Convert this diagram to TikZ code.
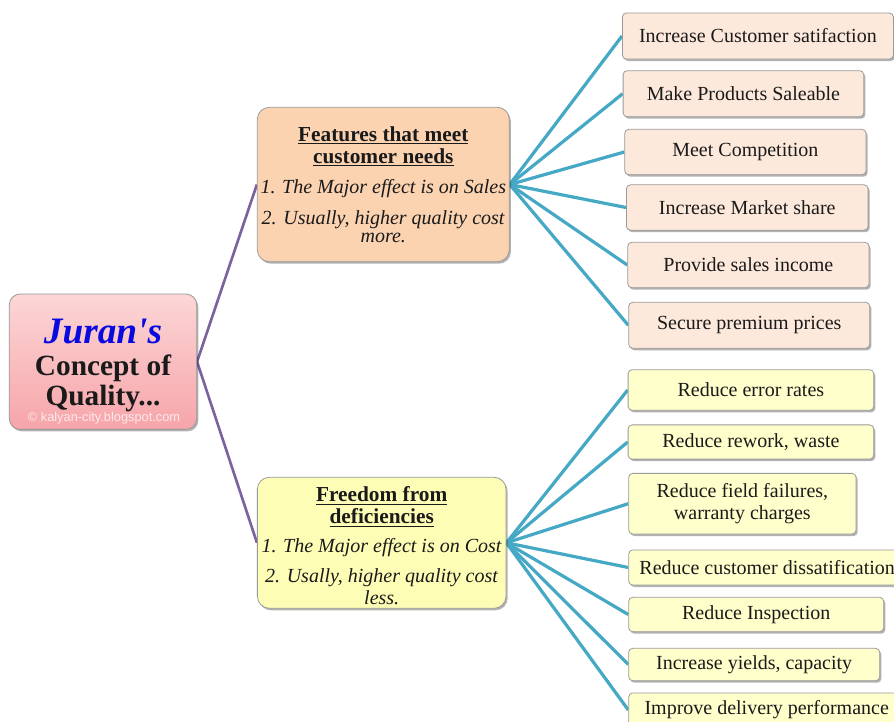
\documentclass[tikz,border=0pt]{standalone}
\usepackage{fontspec}
\setmainfont{Liberation Serif}
\newfontfamily\plainserif{Liberation Serif}[Ligatures=TeXOff]
\newfontfamily\wmfont{Liberation Sans}
\usetikzlibrary{shadows,backgrounds}
\definecolor{lineblue}{HTML}{45A8C4}
\definecolor{linepurple}{HTML}{7D62A0}
\definecolor{peachdark}{HTML}{FBD3B1}
\definecolor{peachlight}{HTML}{FDE9DB}
\definecolor{yellowdark}{HTML}{FEFDB5}
\definecolor{yellowlight}{HTML}{FFFFCC}
\definecolor{roottop}{HTML}{FCD6D6}
\definecolor{rootbottom}{HTML}{F6A5AA}
\definecolor{bordergray}{HTML}{9A9A9A}
\definecolor{textblack}{HTML}{1A1A1A}
\definecolor{juranblue}{HTML}{0A0AE0}
\begin{document}
\begin{tikzpicture}[x=0.75pt,y=-0.75pt,
  boxshadow/.style={drop shadow={shadow xshift=1.2pt,shadow yshift=-1.5pt,opacity=0.3,fill=black}},
  leaf/.style={draw=bordergray,line width=0.6pt,rounded corners=3pt,anchor=west,inner sep=0pt,
    align=center,font=\fontsize{15}{15}\selectfont,text=textblack,boxshadow},
  salesleaf/.style={leaf,fill=peachlight},
  costleaf/.style={leaf,fill=yellowlight},
  hub/.style={draw=bordergray,line width=0.6pt,rounded corners=9pt,inner sep=0pt,align=center,
    text=textblack,boxshadow,font=\fontsize{15}{13.5}\selectfont},
  blueline/.style={draw=lineblue,line width=2.4pt},
  purpleline/.style={draw=linepurple,line width=2pt}]
\useasboundingbox (0,0) rectangle (894,722);

% root
\node[hub,rounded corners=8pt,top color=roottop,bottom color=rootbottom,
  minimum width=140.5pt,minimum height=101.5pt,font=\fontsize{22}{21}\selectfont\bfseries] (root) at (103,361.7)
  {\rule{0pt}{24pt}{\fontsize{28}{21}\selectfont\plainserif\bfseries\itshape\color{juranblue}Juran's}\\[2.8pt] Concept of\\[1.5pt] Quality...};
\node[font=\wmfont\fontsize{9.6}{10}\selectfont,text=white,text opacity=0.75,inner sep=0pt] (wm) at (104,418)
  {© kalyan-city.blogspot.com};

% hubs
\node[hub,fill=peachdark,minimum width=189pt,minimum height=115.8pt] (feat) at (383.3,184.5)
  {\textbf{\fontsize{16}{13.5}\selectfont\underline{Features that meet}}\\[3pt]
   \textbf{\fontsize{16}{13.5}\selectfont\underline{customer needs}}\\[9pt]
   \textit{1. The Major effect is on Sales}\\[8.5pt]
   \textit{2. Usually, higher quality cost}\\
   \textit{more.}};
\node[hub,fill=yellowdark,minimum width=186.5pt,minimum height=98.25pt] (free) at (381.7,542.8)
  {\rule{0pt}{16pt}\textbf{\fontsize{16}{13.5}\selectfont\underline{Freedom from}}\\[3pt]
   \textbf{\fontsize{16}{13.5}\selectfont\underline{deficiencies}}\\[8pt]
   \textit{1. The Major effect is on Cost}\\[8pt]
   \textit{2. Usally, higher quality cost}\\[2pt]
   \textit{less.}};

% sales leaves
\node[salesleaf,minimum width=203.25pt,minimum height=34.5pt] (s1) at (622,36) {Increase Customer satifaction};
\node[salesleaf,minimum width=180.5pt,minimum height=34.5pt] (s2) at (622.7,93.7) {Make Products Saleable};
\node[salesleaf,minimum width=181pt,minimum height=34pt] (s3) at (624.3,152) {Meet Competition};
\node[salesleaf,minimum width=181.3pt,minimum height=34pt] (s4) at (626,207.5) {Increase Market share};
\node[salesleaf,minimum width=181pt,minimum height=34pt] (s5) at (627.3,265) {Provide sales income};
\node[salesleaf,minimum width=180.75pt,minimum height=34.5pt] (s6) at (628.3,325.3) {Secure premium prices};

% cost leaves
\node[costleaf,minimum width=184.2pt,minimum height=30.5pt] (c1) at (627.7,390) {Reduce error rates};
\node[costleaf,minimum width=184.2pt,minimum height=25.7pt] (c2) at (627.7,442) {Reduce rework, waste};
\node[costleaf,minimum width=170.5pt,minimum height=45.5pt,font=\fontsize{15}{17}\selectfont] (c3) at (628.3,503.7) {Reduce field failures,\\ warranty charges};
\node[costleaf,minimum width=207.75pt,minimum height=26.25pt] (c4) at (628.3,567.5) {Reduce customer dissatification};
\node[costleaf,minimum width=191.25pt,minimum height=25.8pt] (c5) at (628.3,614.5) {Reduce Inspection};
\node[costleaf,minimum width=188.25pt,minimum height=24.3pt] (c6) at (628.3,664.5) {Increase yields, capacity};
\node[costleaf,minimum width=207pt,minimum height=25.5pt] (c7) at (628.3,710) {Improve delivery performance};

\begin{scope}[on background layer]
  \draw[purpleline] (feat.west) -- (root.east) -- (free.west);
  \foreach \n in {s1,s2,s3,s4,s5,s6} \draw[blueline] (feat.east) -- (\n.west);
  \foreach \n in {c1,c2,c3,c4,c5,c6,c7} \draw[blueline] (free.east) -- (\n.west);
\end{scope}
\end{tikzpicture}
\end{document}
